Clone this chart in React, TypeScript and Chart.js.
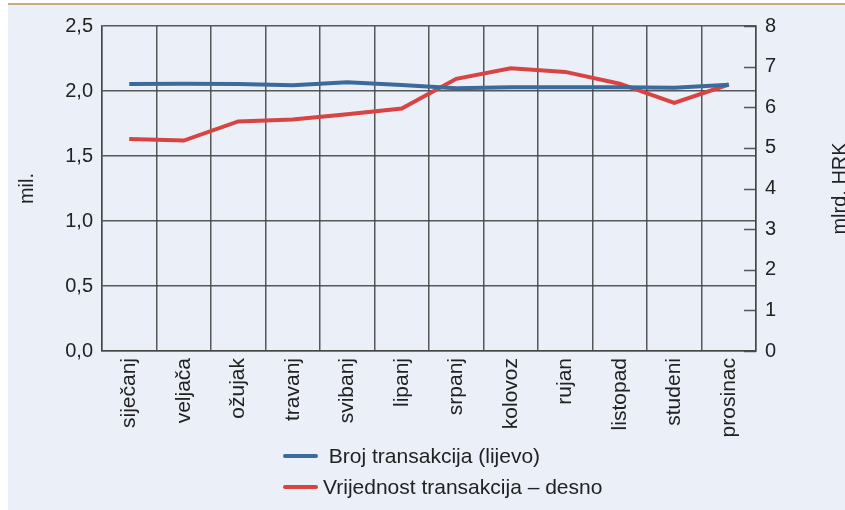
import React, { useEffect, useRef } from "react";
import { Chart, registerables } from "chart.js";

Chart.register(...registerables);

const categories = [
  "siječanj", "veljača", "ožujak", "travanj", "svibanj", "lipanj",
  "srpanj", "kolovoz", "rujan", "listopad", "studeni", "prosinac",
];
const brojTransakcija = [2.054, 2.056, 2.054, 2.044, 2.067, 2.046, 2.021, 2.028, 2.028, 2.028, 2.025, 2.048];
const vrijednostTransakcija = [5.22, 5.18, 5.65, 5.70, 5.83, 5.97, 6.70, 6.96, 6.87, 6.58, 6.11, 6.56];
const seriesLabels = [" Broj transakcija (lijevo)", "Vrijednost transakcija – desno"];
const leftTitle = "mil.";
const rightTitle = "mlrd. HRK";

const FONT = "'Liberation Sans', Arial, Helvetica, sans-serif";
const BG = "#eaeff8";
const GRID = "rgba(70,70,70,0.9)";
const TEXT = "#222222";

const decor = {
  id: "decor",
  beforeDraw(chart: any) {
    const { ctx, width, height } = chart;
    ctx.save();
    ctx.fillStyle = BG;
    ctx.fillRect(0, 5, width, height - 5);
    ctx.strokeStyle = "#b3925e";
    ctx.lineWidth = 1.6;
    ctx.beginPath();
    ctx.moveTo(0, 4);
    ctx.lineTo(width, 4);
    ctx.stroke();
    ctx.restore();
  },
  afterDraw(chart: any) {
    const { ctx } = chart;
    const y1 = chart.scales.y1;
    ctx.save();
    // inward tick marks on right axis
    ctx.strokeStyle = GRID;
    ctx.lineWidth = 1.5;
    y1.ticks.forEach((t: any) => {
      const py = Math.round(y1.getPixelForValue(t.value)) + 0.5;
      ctx.beginPath();
      ctx.moveTo(y1.left - 12, py);
      ctx.lineTo(y1.left, py);
      ctx.stroke();
    });
    // right axis title, reading bottom to top
    const cy = (chart.chartArea.top + chart.chartArea.bottom) / 2;
    ctx.translate(832, cy);
    ctx.rotate(-Math.PI / 2);
    ctx.fillStyle = TEXT;
    ctx.font = `20px ${FONT}`;
    ctx.textAlign = "center";
    ctx.textBaseline = "middle";
    ctx.fillText(rightTitle, 0, 0);
    ctx.restore();

    // legend, stacked
    ctx.save();
    ctx.font = `21px ${FONT}`;
    ctx.textBaseline = "middle";
    ctx.fillStyle = TEXT;
    const rows = [456, 487];
    chart.data.datasets.forEach((ds: any, i: number) => {
      const y = rows[i];
      ctx.strokeStyle = ds.borderColor;
      ctx.lineWidth = 4;
      ctx.lineCap = "round";
      ctx.beginPath();
      ctx.moveTo(277, y);
      ctx.lineTo(308, y);
      ctx.stroke();
      ctx.fillText(ds.label, 315, y + 1);
    });
    ctx.restore();
  },
};

export default function App() {
  const ref = useRef<HTMLCanvasElement | null>(null);
  useEffect(() => {
    if (!ref.current) return;
    const chart = new Chart(ref.current, {
      type: "line",
      data: {
        labels: categories,
        datasets: [
          {
            label: seriesLabels[0],
            data: brojTransakcija,
            borderColor: "#3c6a9b",
            backgroundColor: "#3c6a9b",
            borderWidth: 4,
            pointRadius: 0,
            tension: 0,
            yAxisID: "y",
          },
          {
            label: seriesLabels[1],
            data: vrijednostTransakcija,
            borderColor: "#d84343",
            backgroundColor: "#d84343",
            borderWidth: 4,
            pointRadius: 0,
            tension: 0,
            yAxisID: "y1",
          },
        ],
      },
      options: {
        animation: false,
        responsive: false,
        maintainAspectRatio: false,
        layout: { padding: { top: 26, left: 0, right: 0, bottom: 0 } },
        plugins: { legend: { display: false }, tooltip: { enabled: false } },
        scales: {
          x: {
            offset: true,
            grid: { offset: true, color: GRID, lineWidth: 1.5, drawTicks: false },
            border: { display: true, color: GRID, width: 1.5 },
            ticks: {
              maxRotation: 90,
              minRotation: 90,
              padding: 7,
              color: TEXT,
              font: { family: FONT, size: 21 },
            },
            afterFit(s: any) { s.height = 159; },
          },
          y: {
            position: "left",
            min: 0,
            max: 2.5,
            grid: { color: GRID, lineWidth: 1.5, drawTicks: false },
            border: { display: true, color: GRID, width: 1.5 },
            ticks: {
              stepSize: 0.5,
              padding: 9,
              color: TEXT,
              font: { family: FONT, size: 20 },
              callback: (v: any) => Number(v).toFixed(1).replace(".", ","),
            },
            title: {
              display: true,
              text: leftTitle,
              color: TEXT,
              font: { family: FONT, size: 20 },
              padding: { top: 7, bottom: 0 },
            },
            afterFit(s: any) { s.width = 94; },
          },
          y1: {
            position: "right",
            min: 0,
            max: 8,
            grid: { drawOnChartArea: false, drawTicks: false },
            border: { display: true, color: GRID, width: 1.5 },
            ticks: {
              stepSize: 1,
              padding: 9,
              color: TEXT,
              font: { family: FONT, size: 20 },
            },
            afterFit(s: any) { s.width = 89; },
          },
        },
      },
      plugins: [decor],
    });
    return () => chart.destroy();
  }, []);
  return (
    <div style={{ position: "absolute", left: 8, top: 0, width: 837, height: 510 }}>
      <canvas ref={ref} width={837} height={510} style={{ width: 837, height: 510, display: "block" }} />
    </div>
  );
}
